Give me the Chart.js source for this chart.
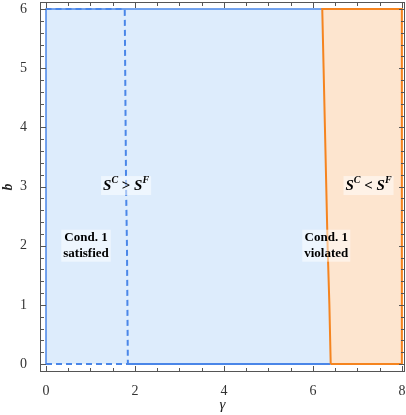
<!DOCTYPE html>
<html lang="en">
<head>
<meta charset="UTF-8">
<title>Cond. 1 regions</title>
<script src="https://cdn.jsdelivr.net/npm/chart.js@4.4.0/dist/chart.umd.min.js"></script>
<style>
  html, body { margin: 0; padding: 0; background: #fff; }
  #wrap { width: 406px; height: 415px; }
</style>
</head>
<body>
<div id="wrap"><canvas id="chart"></canvas></div>
<script>
// values
const bValues = [0, 1, 2, 3, 4, 5, 6];
const violationBoundary = [6.40, 6.37, 6.33, 6.30, 6.27, 6.24, 6.21];  // Cond. 1 edge (orange)
const surplusBoundary = [1.84, 1.83, 1.82, 1.80, 1.79, 1.78, 1.77];    // S^C = S^F (dashed)
const gammaMax = 8;
const bMax = 6;
const xTicks = [0, 2, 4, 6, 8];
const yTicks = [0, 1, 2, 3, 4, 5, 6];

const BLUE = '#4a86e8', BLUE_FILL = '#ddecfc';
const ORANGE = '#f5841f', ORANGE_FILL = '#fde5cf';
const SERIF = '"Liberation Serif", "DejaVu Serif", serif';

const pts = (xs, ys) => xs.map((x, i) => ({ x: x, y: ys[i] }));
const boundaryPts = pts(violationBoundary, bValues);
const surplusPts = pts(surplusBoundary, bValues);
const first = a => a[0], last = a => a[a.length - 1];

// polygons built from the arrays
const bluePoly = [{ x: 0, y: 0 }, ...boundaryPts, { x: 0, y: bMax }, { x: 0, y: 0 }];
const orangePoly = [...boundaryPts, { x: gammaMax, y: bMax }, { x: gammaMax, y: 0 }, first(boundaryPts)];
const dashedPath = [{ x: 0, y: 0 }, ...surplusPts, { x: 0, y: bMax }];
const solidTop = [{ x: 0, y: 0 }, { x: 0, y: bMax }, last(surplusPts), last(boundaryPts)];
const solidBottom = [first(surplusPts), first(boundaryPts)];

const line = (data, extra) => Object.assign({
  data: data, pointRadius: 0, borderWidth: 2, fill: false, tension: 0
}, extra);

// no extra room for half labels at the ends
const noPad = s => { s.paddingTop = 0; s.paddingBottom = 0; s.paddingLeft = 0; s.paddingRight = 0; };

// frame with inward ticks, Mathematica style
const framePlugin = {
  id: 'frame',
  afterDatasetsDraw(chart) {
    const { ctx, chartArea: a, scales: { x, y } } = chart;
    ctx.save();
    ctx.strokeStyle = '#555';
    ctx.lineWidth = 1;
    ctx.strokeRect(a.left + 0.5, a.top + 0.5, a.right - a.left - 1, a.bottom - a.top - 1);
    ctx.beginPath();
    for (let v = 0; v <= gammaMax + 1e-9; v += 0.5) {
      const px = Math.round(x.getPixelForValue(v)) + 0.5;
      const len = xTicks.includes(v) ? 6 : 4;
      ctx.moveTo(px, a.bottom); ctx.lineTo(px, a.bottom - len);
      ctx.moveTo(px, a.top); ctx.lineTo(px, a.top + len);
    }
    for (let i = 0; i <= bMax * 5; i++) {
      const v = i / 5;
      const py = Math.round(y.getPixelForValue(v)) + 0.5;
      const len = i % 5 === 0 ? 6 : 4;
      ctx.moveTo(a.left, py); ctx.lineTo(a.left + len, py);
      ctx.moveTo(a.right, py); ctx.lineTo(a.right - len, py);
    }
    ctx.stroke();
    ctx.restore();
  }
};

function drawBox(ctx, cx, cy, w, h) {
  ctx.fillStyle = 'rgba(255,255,255,0.5)';
  ctx.fillRect(cx - w / 2, cy - h / 2, w, h);
}

function drawRelation(ctx, cx, cy, op) {
  const big = 'italic bold 15px ' + SERIF;
  const sup = 'italic bold 10px ' + SERIF;
  const opFont = 'bold 15px ' + SERIF;
  const parts = [
    { t: 'S', f: big, dy: 0 }, { t: 'C', f: sup, dy: -6 },
    { t: ' ' + op + ' ', f: opFont, dy: 0 },
    { t: 'S', f: big, dy: 0 }, { t: 'F', f: sup, dy: -6 }
  ];
  let w = 0;
  parts.forEach(p => { ctx.font = p.f; p.w = ctx.measureText(p.t).width; w += p.w; });
  drawBox(ctx, cx, cy - 1, w + 4, 19);
  ctx.fillStyle = '#000';
  ctx.textBaseline = 'middle';
  ctx.textAlign = 'left';
  let xPos = cx - w / 2;
  parts.forEach(p => { ctx.font = p.f; ctx.fillText(p.t, xPos, cy + p.dy); xPos += p.w; });
}

function drawTwoLines(ctx, cx, cy, l1, l2) {
  ctx.font = 'bold 13px ' + SERIF;
  const w = Math.max(ctx.measureText(l1).width, ctx.measureText(l2).width);
  drawBox(ctx, cx, cy, w + 4, 32);
  ctx.fillStyle = '#000';
  ctx.textAlign = 'center';
  ctx.textBaseline = 'middle';
  ctx.fillText(l1, cx, cy - 8);
  ctx.fillText(l2, cx, cy + 8);
}

const labelPlugin = {
  id: 'regionLabels',
  afterDatasetsDraw(chart) {
    const { ctx, scales: { x, y } } = chart;
    ctx.save();
    drawRelation(ctx, x.getPixelForValue(1.8), y.getPixelForValue(3), '>');
    drawRelation(ctx, x.getPixelForValue(7.25), y.getPixelForValue(3), '<');
    drawTwoLines(ctx, x.getPixelForValue(0.9), y.getPixelForValue(2.0), 'Cond. 1', 'satisfied');
    drawTwoLines(ctx, x.getPixelForValue(6.3), y.getPixelForValue(2.0), 'Cond. 1', 'violated');
    ctx.restore();
  }
};

new Chart(document.getElementById('chart'), {
  type: 'line',
  data: {
    datasets: [
      line(dashedPath, { borderColor: BLUE, borderDash: [6, 4], order: 1 }),
      line(solidTop, { borderColor: BLUE, borderWidth: 1.5, order: 2 }),
      line(solidBottom, { borderColor: BLUE, order: 1 }),
      line(orangePoly, { borderColor: ORANGE, backgroundColor: ORANGE_FILL, fill: 'shape', order: 0 }),
      line(bluePoly, { borderColor: 'rgba(0,0,0,0)', borderWidth: 0, backgroundColor: BLUE_FILL, fill: 'shape', order: 5 })
    ]
  },
  options: {
    responsive: true,
    maintainAspectRatio: false,
    animation: false,
    layout: { padding: { top: 2, right: 1, left: 0, bottom: 0 } },
    plugins: { legend: { display: false }, tooltip: { enabled: false } },
    scales: {
      x: {
        type: 'linear',
        min: -0.135, max: 8.07,
        afterBuildTicks: s => { s.ticks = xTicks.map(v => ({ value: v })); },
        afterFit: s => { s.height = 43; noPad(s); },
        grid: { display: false },
        border: { display: false },
        ticks: { font: { family: SERIF, size: 14 }, color: '#333', padding: 3, maxRotation: 0 },
        title: { display: true, text: 'γ', font: { family: SERIF, size: 15, style: 'italic' }, color: '#222', padding: { top: 0, bottom: 1 } }
      },
      y: {
        type: 'linear',
        min: -0.135, max: 6.12,
        afterBuildTicks: s => { s.ticks = yTicks.map(v => ({ value: v })); },
        afterFit: s => { s.width = 40; noPad(s); },
        grid: { display: false },
        border: { display: false },
        ticks: { font: { family: SERIF, size: 14 }, color: '#333', padding: 5 },
        title: { display: true, text: 'b', font: { family: SERIF, size: 14, style: 'italic', weight: 'bold' }, color: '#222', padding: { top: 0, bottom: 4 } }
      }
    }
  },
  plugins: [framePlugin, labelPlugin]
});
</script>
</body>
</html>
